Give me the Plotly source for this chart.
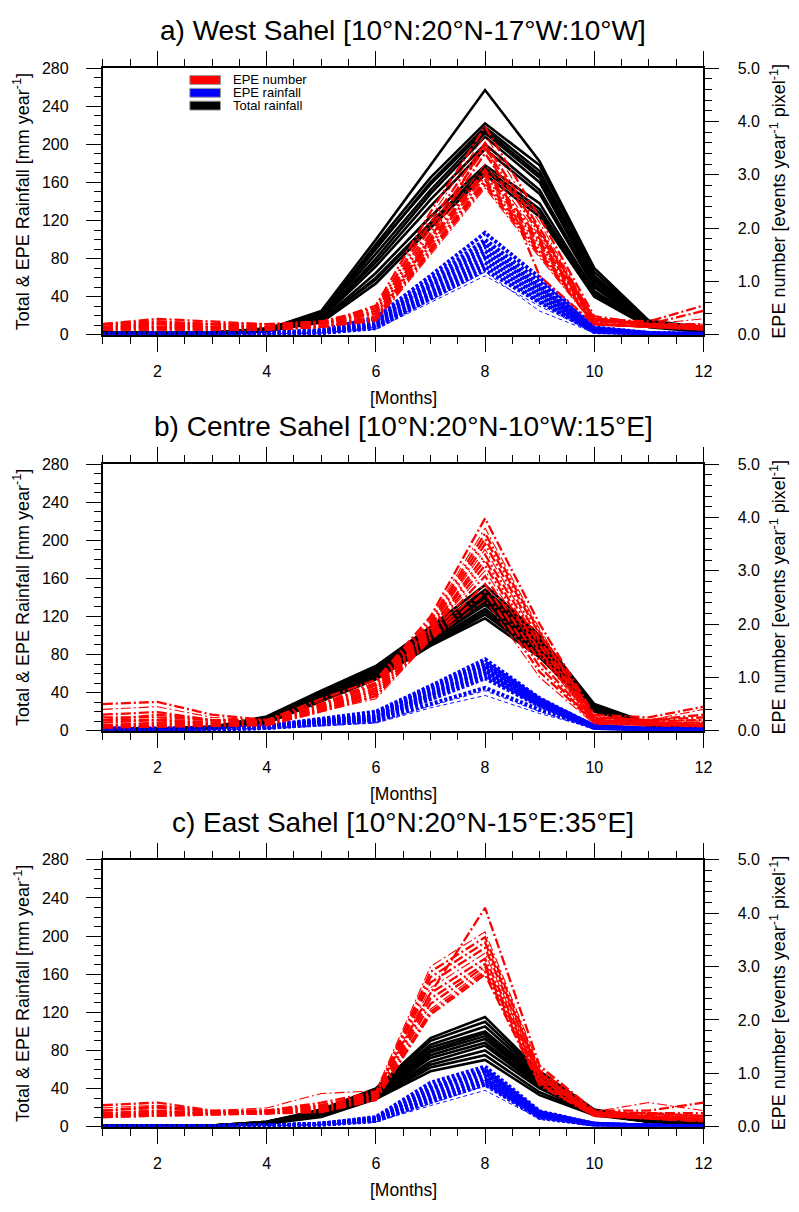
import plotly.graph_objects as go

MONTHS = list(range(1, 13))
X_TICKS = [2, 4, 6, 8, 10, 12]

TITLES = [
    "a) West Sahel [10°N:20°N-17°W:10°W]",
    "b) Centre Sahel [10°N:20°N-10°W:15°E]",
    "c) East Sahel [10°N:20°N-15°E:35°E]",
]
LEGEND_LABELS = ["EPE number", "EPE rainfall", "Total rainfall"]

# ---------------- a) West Sahel ----------------
A_TOTAL = [
    [3, 2, 2, 6, 25, 100, 178, 257, 182, 70, 15, 8],
    [3, 2, 2, 7, 22, 95, 165, 222, 178, 66, 14, 7],
    [2, 2, 2, 6, 20, 90, 160, 218, 172, 62, 13, 7],
    [3, 2, 3, 6, 24, 92, 158, 215, 168, 60, 12, 6],
    [2, 2, 2, 5, 20, 85, 152, 212, 165, 58, 13, 6],
    [2, 1, 2, 6, 18, 80, 148, 208, 160, 55, 12, 5],
    [2, 2, 2, 5, 19, 76, 142, 200, 152, 52, 11, 5],
    [2, 1, 2, 5, 17, 72, 135, 195, 148, 50, 10, 5],
    [2, 1, 1, 4, 15, 65, 124, 178, 138, 46, 10, 4],
    [1, 1, 1, 4, 14, 60, 118, 175, 132, 44, 9, 4],
    [2, 1, 2, 5, 15, 58, 116, 172, 128, 42, 9, 4],
    [1, 1, 1, 4, 13, 54, 112, 168, 124, 40, 8, 3],
]
A_RAIN = [
    [1, 1, 1, 2, 5, 18, 62, 107, 60, 8, 2, 1],
    [1, 1, 1, 2, 4, 16, 58, 100, 56, 7, 2, 1],
    [1, 1, 1, 2, 4, 15, 55, 96, 52, 6, 2, 1],
    [1, 1, 1, 1, 3, 14, 52, 92, 50, 6, 1, 1],
    [1, 1, 1, 1, 3, 12, 50, 88, 48, 5, 1, 1],
    [0, 0, 1, 1, 3, 11, 46, 84, 45, 5, 1, 0],
    [0, 0, 0, 1, 2, 10, 44, 80, 42, 4, 1, 0],
    [0, 0, 0, 1, 2, 9, 42, 76, 40, 4, 1, 0],
    [0, 0, 0, 1, 2, 8, 40, 72, 36, 3, 1, 0],
    [0, 0, 0, 1, 2, 7, 38, 68, 34, 3, 1, 0],
    [0, 0, 0, 1, 2, 6, 34, 62, 30, 3, 1, 0],
    [0, 0, 0, 1, 2, 8, 36, 66, 25, 2, 1, 0],
]
A_NUMBER = [
    [0.20, 0.25, 0.20, 0.15, 0.20, 0.55, 2.30, 3.90, 2.20, 0.35, 0.20, 0.15],
    [0.15, 0.20, 0.15, 0.15, 0.20, 0.50, 2.20, 3.75, 2.10, 0.30, 0.20, 0.30],
    [0.20, 0.30, 0.25, 0.20, 0.25, 0.50, 2.10, 3.60, 2.00, 0.30, 0.25, 0.55],
    [0.15, 0.15, 0.15, 0.15, 0.20, 0.45, 2.00, 3.50, 1.95, 0.30, 0.20, 0.45],
    [0.20, 0.20, 0.20, 0.20, 0.20, 0.45, 1.90, 3.40, 1.90, 0.28, 0.20, 0.20],
    [0.10, 0.15, 0.15, 0.15, 0.20, 0.40, 1.85, 3.20, 1.85, 0.25, 0.18, 0.20],
    [0.15, 0.20, 0.20, 0.15, 0.20, 0.40, 1.80, 3.10, 1.80, 0.25, 0.20, 0.15],
    [0.20, 0.25, 0.20, 0.20, 0.25, 0.40, 1.75, 3.05, 1.75, 0.30, 0.20, 0.15],
    [0.10, 0.10, 0.10, 0.10, 0.15, 0.35, 1.70, 3.00, 1.70, 0.25, 0.20, 0.10],
    [0.15, 0.15, 0.15, 0.15, 0.20, 0.35, 1.65, 2.95, 1.65, 0.22, 0.15, 0.10],
    [0.10, 0.15, 0.10, 0.10, 0.15, 0.30, 1.60, 2.90, 1.60, 0.20, 0.15, 0.10],
    [0.15, 0.20, 0.15, 0.15, 0.20, 0.30, 1.60, 2.85, 1.55, 0.20, 0.15, 0.15],
    [0.10, 0.10, 0.10, 0.10, 0.15, 0.28, 1.55, 2.80, 1.50, 0.20, 0.15, 0.10],
    [0.15, 0.15, 0.15, 0.10, 0.15, 0.25, 1.50, 2.75, 1.45, 0.18, 0.15, 0.12],
    [0.12, 0.12, 0.12, 0.12, 0.15, 0.30, 1.80, 3.60, 1.10, 0.20, 0.15, 0.12],
]

# ---------------- b) Centre Sahel ----------------
B_TOTAL = [
    [2, 2, 4, 15, 42, 68, 109, 153, 100, 28, 8, 4],
    [2, 2, 4, 14, 40, 66, 106, 148, 98, 27, 7, 4],
    [2, 2, 4, 14, 40, 65, 104, 145, 96, 27, 7, 3],
    [2, 2, 3, 13, 38, 64, 102, 142, 94, 26, 7, 3],
    [2, 1, 3, 13, 38, 62, 100, 140, 92, 25, 7, 3],
    [1, 1, 3, 12, 37, 61, 99, 138, 90, 25, 6, 3],
    [1, 1, 3, 12, 36, 60, 97, 135, 88, 24, 6, 3],
    [1, 1, 3, 11, 35, 58, 95, 132, 86, 23, 6, 2],
    [1, 1, 2, 10, 34, 57, 93, 128, 84, 22, 5, 2],
    [1, 1, 2, 10, 33, 56, 91, 125, 82, 22, 5, 2],
    [1, 1, 2, 9, 32, 55, 90, 122, 80, 21, 5, 2],
    [1, 1, 2, 8, 31, 54, 89, 118, 77, 20, 5, 2],
]
B_RAIN = [
    [2, 2, 2, 5, 12, 20, 47, 75, 34, 5, 2, 2],
    [2, 2, 2, 5, 11, 19, 45, 72, 33, 5, 2, 2],
    [2, 2, 2, 5, 11, 18, 44, 70, 32, 5, 2, 2],
    [2, 2, 2, 4, 10, 17, 42, 68, 31, 4, 2, 1],
    [1, 1, 2, 4, 10, 16, 40, 65, 30, 4, 2, 1],
    [1, 1, 2, 4, 9, 14, 38, 63, 29, 4, 1, 1],
    [1, 1, 1, 4, 9, 13, 37, 60, 28, 4, 1, 1],
    [1, 1, 1, 3, 8, 12, 35, 58, 27, 3, 1, 1],
    [1, 1, 1, 3, 8, 11, 33, 55, 26, 3, 1, 1],
    [1, 1, 1, 3, 7, 10, 28, 45, 22, 3, 1, 1],
    [1, 1, 1, 3, 6, 9, 26, 42, 20, 3, 1, 1],
    [1, 1, 1, 2, 5, 8, 24, 37, 18, 3, 1, 1],
]
B_NUMBER = [
    [0.50, 0.54, 0.30, 0.20, 0.60, 0.95, 2.14, 3.98, 2.00, 0.30, 0.25, 0.45],
    [0.40, 0.45, 0.25, 0.20, 0.55, 0.90, 2.10, 3.80, 1.90, 0.28, 0.20, 0.40],
    [0.30, 0.35, 0.20, 0.20, 0.50, 0.90, 2.05, 3.70, 1.85, 0.25, 0.20, 0.30],
    [0.20, 0.30, 0.20, 0.20, 0.50, 0.85, 2.00, 3.60, 1.80, 0.25, 0.20, 0.25],
    [0.25, 0.25, 0.20, 0.18, 0.48, 0.85, 1.95, 3.50, 1.70, 0.22, 0.18, 0.20],
    [0.15, 0.20, 0.20, 0.18, 0.45, 0.80, 1.95, 3.40, 1.65, 0.20, 0.18, 0.20],
    [0.20, 0.20, 0.15, 0.15, 0.45, 0.80, 1.90, 3.30, 1.60, 0.20, 0.15, 0.15],
    [0.10, 0.15, 0.15, 0.15, 0.42, 0.75, 1.90, 3.20, 1.50, 0.20, 0.15, 0.15],
    [0.15, 0.20, 0.15, 0.15, 0.42, 0.75, 1.85, 3.10, 1.45, 0.18, 0.15, 0.12],
    [0.10, 0.15, 0.12, 0.15, 0.40, 0.70, 1.85, 3.00, 1.40, 0.18, 0.15, 0.10],
    [0.10, 0.12, 0.12, 0.12, 0.40, 0.70, 1.80, 2.90, 1.30, 0.15, 0.12, 0.10],
    [0.08, 0.10, 0.10, 0.12, 0.38, 0.65, 1.75, 2.75, 1.20, 0.15, 0.12, 0.10],
    [0.06, 0.08, 0.10, 0.10, 0.36, 0.65, 1.72, 2.60, 1.10, 0.15, 0.10, 0.08],
    [0.05, 0.06, 0.08, 0.10, 0.36, 0.60, 1.70, 2.45, 1.00, 0.12, 0.10, 0.08],
]

# ---------------- c) East Sahel ----------------
C_TOTAL = [
    [1, 1, 1, 5, 18, 40, 93, 115, 58, 18, 8, 5],
    [1, 1, 1, 5, 17, 38, 90, 110, 56, 17, 8, 4],
    [1, 1, 1, 5, 16, 37, 86, 105, 54, 17, 7, 4],
    [1, 1, 1, 4, 16, 36, 83, 100, 52, 16, 7, 4],
    [1, 1, 1, 4, 15, 35, 80, 98, 50, 16, 7, 3],
    [1, 1, 1, 4, 14, 34, 78, 95, 48, 15, 6, 3],
    [1, 1, 1, 4, 14, 33, 75, 92, 46, 15, 6, 3],
    [1, 1, 1, 4, 13, 32, 72, 88, 44, 14, 6, 3],
    [1, 1, 1, 3, 12, 31, 68, 85, 42, 14, 5, 2],
    [1, 1, 1, 3, 12, 30, 65, 80, 40, 13, 5, 2],
    [1, 1, 1, 3, 11, 30, 62, 75, 36, 13, 5, 2],
    [1, 1, 1, 3, 10, 29, 58, 70, 33, 12, 5, 2],
]
C_RAIN = [
    [0, 0, 0, 1, 3, 10, 46, 63, 16, 3, 1, 0],
    [0, 0, 0, 1, 3, 9, 42, 60, 15, 3, 1, 0],
    [0, 0, 0, 1, 3, 9, 40, 58, 14, 3, 1, 0],
    [0, 0, 0, 1, 3, 8, 38, 56, 14, 3, 1, 0],
    [0, 0, 0, 1, 2, 8, 35, 53, 13, 2, 1, 0],
    [0, 0, 0, 1, 2, 7, 33, 50, 12, 2, 1, 0],
    [0, 0, 0, 1, 2, 7, 30, 48, 11, 2, 1, 0],
    [0, 0, 0, 1, 2, 6, 28, 46, 10, 2, 1, 0],
    [0, 0, 0, 1, 2, 6, 26, 44, 9, 2, 1, 0],
    [0, 0, 0, 1, 2, 5, 24, 43, 9, 2, 0, 0],
    [0, 0, 0, 1, 2, 5, 22, 38, 8, 2, 0, 0],
]
C_NUMBER = [
    [0.40, 0.45, 0.30, 0.30, 0.45, 0.65, 2.50, 4.10, 1.14, 0.30, 0.30, 0.45],
    [0.35, 0.40, 0.30, 0.35, 0.62, 0.67, 3.00, 3.65, 1.10, 0.28, 0.45, 0.30],
    [0.30, 0.38, 0.28, 0.30, 0.40, 0.62, 2.90, 3.55, 1.05, 0.28, 0.25, 0.25],
    [0.30, 0.35, 0.28, 0.30, 0.40, 0.60, 2.80, 3.45, 1.00, 0.25, 0.25, 0.20],
    [0.25, 0.30, 0.25, 0.28, 0.38, 0.60, 2.70, 3.35, 0.98, 0.25, 0.22, 0.20],
    [0.25, 0.30, 0.25, 0.28, 0.35, 0.58, 2.60, 3.25, 0.95, 0.25, 0.20, 0.18],
    [0.22, 0.28, 0.25, 0.25, 0.35, 0.55, 2.50, 3.15, 0.92, 0.22, 0.20, 0.15],
    [0.20, 0.25, 0.25, 0.25, 0.32, 0.55, 2.40, 3.05, 0.90, 0.22, 0.18, 0.15],
    [0.20, 0.25, 0.25, 0.25, 0.30, 0.52, 2.30, 3.00, 0.85, 0.20, 0.18, 0.12],
    [0.20, 0.22, 0.25, 0.25, 0.30, 0.50, 2.20, 2.95, 0.82, 0.20, 0.15, 0.12],
    [0.18, 0.20, 0.22, 0.25, 0.28, 0.50, 2.15, 2.90, 0.80, 0.20, 0.15, 0.10],
    [0.18, 0.20, 0.22, 0.25, 0.27, 0.50, 2.10, 2.85, 0.77, 0.20, 0.15, 0.10],
]

PANELS = [
    (TITLES[0], A_TOTAL, A_RAIN, A_NUMBER),
    (TITLES[1], B_TOTAL, B_RAIN, B_NUMBER),
    (TITLES[2], C_TOTAL, C_RAIN, C_NUMBER),
]

# ---------------- layout geometry (pixels) ----------------
W, H = 799, 1212
FONT = "Liberation Sans, Arial, Helvetica, sans-serif"
PX_LEFT, PX_RIGHT = 104, 711.5
PANEL_TOPS = [61, 462.5, 864]
PANEL_H = 270.5


def px(x):
    return x / W


def py(y):
    return 1 - y / H


fig = go.Figure()
layout = dict(
    width=W, height=H, margin=dict(l=0, r=0, t=0, b=0, pad=0),
    plot_bgcolor="white", paper_bgcolor="white", showlegend=False,
    font=dict(family=FONT, color="black"),
)
annotations = []
shapes = []

for i, (title, tot, rain, num) in enumerate(PANELS):
    xname = "xaxis" if i == 0 else f"xaxis{i + 1}"
    xref = "x" if i == 0 else f"x{i + 1}"
    yl, yr = 2 * i + 1, 2 * i + 2
    ylname = "yaxis" if yl == 1 else f"yaxis{yl}"
    ylref = "y" if yl == 1 else f"y{yl}"
    yrname, yrref = f"yaxis{yr}", f"y{yr}"
    top = PANEL_TOPS[i]
    bot = top + PANEL_H
    dom = [py(bot), py(top)]

    # total rainfall: solid black
    for row in tot:
        fig.add_trace(go.Scatter(x=MONTHS, y=row, mode="lines", xaxis=xref, yaxis=ylref,
                                 line=dict(color="black", width=2.6), hoverinfo="skip"))
    # EPE rainfall: blue dotted, last members thin dashed
    nthin = 2
    for k, row in enumerate(rain):
        if k >= len(rain) - nthin:
            ln = dict(color="#1010ff", width=1.0, dash="4px,3px")
        else:
            ln = dict(color="#0000ff", width=4.0, dash="3px,2px")
        fig.add_trace(go.Scatter(x=MONTHS, y=row, mode="lines", xaxis=xref, yaxis=ylref,
                                 line=ln, hoverinfo="skip"))
    # EPE number: red dash-dot on right axis
    for k, row in enumerate(num):
        w = 1.1 if k % 4 == 1 else 2.3
        fig.add_trace(go.Scatter(x=MONTHS, y=row, mode="lines", xaxis=xref, yaxis=yrref,
                                 line=dict(color="#ff0000", width=w, dash="10px,3px,2px,3px"),
                                 hoverinfo="skip"))

    layout[xname] = dict(
        domain=[px(PX_LEFT), px(PX_RIGHT)], anchor=ylref, range=[1, 12],
        tickmode="array", tickvals=X_TICKS, ticks="outside", ticklen=15, tickwidth=1.3,
        tickcolor="black",
        minor=dict(dtick=0.5, tick0=1, ticklen=7, ticks="outside", tickwidth=1.3, tickcolor="black"),
        showline=True, linewidth=2, linecolor="black", mirror="ticks",
        showgrid=False, zeroline=False, tickfont=dict(size=16), ticklabelstandoff=6,
    )
    layout[ylname] = dict(
        domain=dom, anchor=xref, range=[0, 280], tick0=0, dtick=40,
        ticks="outside", ticklen=15, tickwidth=1.3, tickcolor="black",
        minor=dict(dtick=10, ticklen=7, ticks="outside", tickwidth=1.3, tickcolor="black"),
        showline=True, linewidth=2, linecolor="black", mirror=False,
        showgrid=False, zeroline=False, tickfont=dict(size=16), ticklabelstandoff=14,
    )
    layout[yrname] = dict(
        overlaying=ylref, anchor=xref, side="right", range=[0, 5], tick0=0, dtick=1,
        tickformat=".1f", ticks="outside", ticklen=14, tickwidth=1.3, tickcolor="black",
        minor=dict(dtick=0.2, ticklen=7, ticks="outside", tickwidth=1.3, tickcolor="black"),
        showline=True, linewidth=2, linecolor="black",
        showgrid=False, zeroline=False, tickfont=dict(size=16), ticklabelstandoff=15,
    )

    mid = (top + bot) / 2
    annotations.append(dict(text=title, x=px((PX_LEFT + PX_RIGHT) / 2), y=py(top - 38),
                            xref="paper", yref="paper", showarrow=False,
                            xanchor="center", yanchor="middle", font=dict(size=28)))
    annotations.append(dict(text="[Months]", x=px((PX_LEFT + PX_RIGHT) / 2), y=py(bot + 64),
                            xref="paper", yref="paper", showarrow=False,
                            xanchor="center", yanchor="middle", font=dict(size=17.5)))
    annotations.append(dict(text="Total &amp; EPE Rainfall [mm year<sup>-1</sup>]",
                            x=px(22), y=py(mid), xref="paper", yref="paper", showarrow=False,
                            textangle=-90, xanchor="center", yanchor="middle",
                            font=dict(size=18)))
    annotations.append(dict(text="EPE number [events year<sup>-1</sup> pixel<sup>-1</sup>]",
                            x=px(787), y=py(mid), xref="paper", yref="paper", showarrow=False,
                            textangle=-90, xanchor="center", yanchor="middle",
                            font=dict(size=18)))

# legend (panel a only)
LEG_COLORS = ["#ff0000", "#0000ff", "#000000"]
for j, (lab, col) in enumerate(zip(LEGEND_LABELS, LEG_COLORS)):
    yc = 73 + j * 13
    shapes.append(dict(type="rect", xref="paper", yref="paper",
                       x0=px(192), x1=px(223), y0=py(yc + 4.5), y1=py(yc - 4.5),
                       fillcolor=col, line=dict(color="#9a9a9a", width=1)))
    annotations.append(dict(text=lab, x=px(234), y=py(yc), xref="paper", yref="paper",
                            showarrow=False, xanchor="left", yanchor="middle",
                            font=dict(size=13)))

layout["annotations"] = annotations
layout["shapes"] = shapes
fig.update_layout(**layout)

fig.write_html("out.html", config={"displayModeBar": False},
               post_script="document.body.style.margin='0';document.body.style.overflow='hidden';")
